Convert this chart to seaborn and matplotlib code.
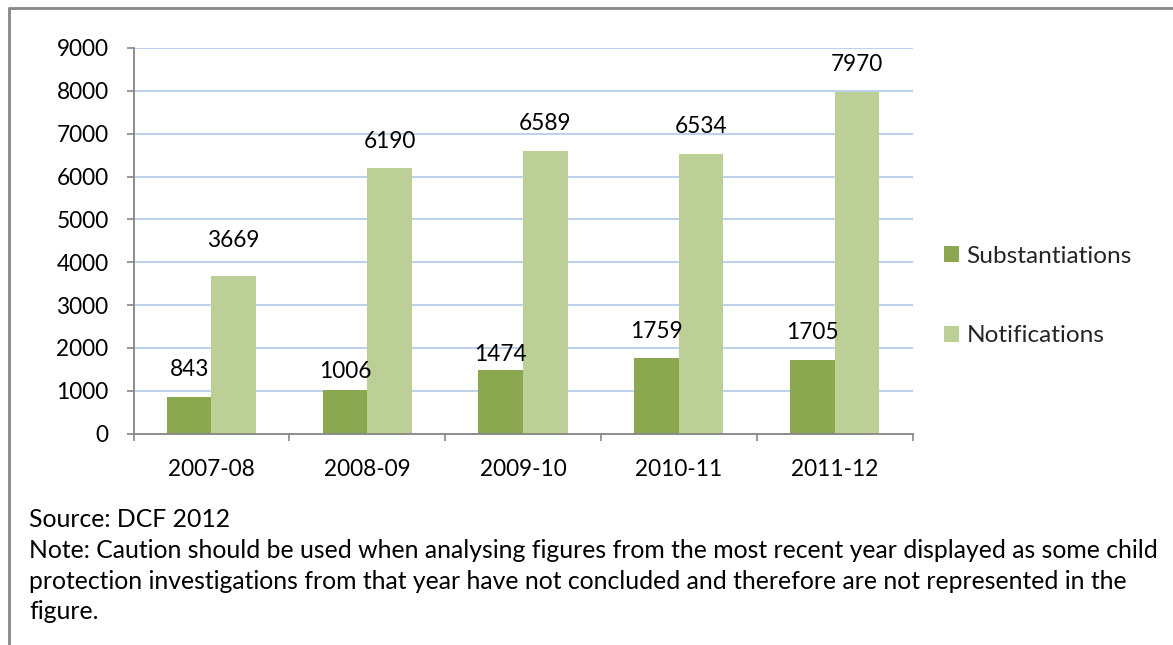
import pandas as pd
import seaborn as sns
import matplotlib.pyplot as plt
import numpy as np
from matplotlib.lines import Line2D
from matplotlib.patches import Patch

sns.set_theme(style="white")
plt.rcParams['font.family'] = ['Lato', 'DejaVu Sans']

# data
years = ['2007-08', '2008-09', '2009-10', '2010-11', '2011-12']
substantiations = [843, 1006, 1474, 1759, 1705]
notifications = [3669, 6190, 6589, 6534, 7970]
series = ['Substantiations', 'Notifications']
colors = ['#8BA74F', '#BBCF97']

# how far (px) each value label sits above its bar, as placed in the original
label_lift = {'Substantiations': [28, 19, 16, 27, 28],
              'Notifications': [36, 27, 28, 27, 28]}

df = pd.DataFrame({'Year': years * 2,
                   'Series': ['Substantiations'] * 5 + ['Notifications'] * 5,
                   'Count': substantiations + notifications})

fig = plt.figure(figsize=(11.73, 6.45), dpi=100)
ax = fig.add_axes([133.5 / 1173, 1 - 433.5 / 645, 779 / 1173, 385.5 / 645])

sns.barplot(data=df, x='Year', y='Count', hue='Series', hue_order=series,
            palette=colors, width=0.573, gap=0, linewidth=0, saturation=1,
            legend=False, ax=ax)

fs = 16.3      # numbers
fs_txt = 17.6  # prose
px = 72 / fig.dpi
for cont, name in zip(ax.containers, series):
    for bar, lift in zip(cont, label_lift[name]):
        h = bar.get_height()
        ax.annotate(f'{int(round(h))}', (bar.get_x() + bar.get_width() / 2, h),
                    xytext=(0, lift * px), textcoords='offset points',
                    ha='center', va='center', fontsize=fs, color='black')

ax.set_ylim(0, 9000)
ax.set_xlim(-0.5, 4.5)
ax.set_yticks(np.arange(0, 9001, 1000))
ax.set_xticks(np.arange(-0.5, 5), minor=True)
ax.set_xlabel('')
ax.set_ylabel('')
ax.yaxis.grid(True, color='#B9CBE8', linewidth=1.3)
ax.set_axisbelow(True)
for s in ['top', 'right']:
    ax.spines[s].set_visible(False)
for s in ['left', 'bottom']:
    ax.spines[s].set_color('#868686')
    ax.spines[s].set_linewidth(1.3)
ax.tick_params(axis='y', which='major', left=True, length=5, width=1.2,
               color='#868686', pad=13, labelsize=fs, labelcolor='black')
ax.tick_params(axis='x', which='major', bottom=False, length=0, pad=18,
               labelsize=fs, labelcolor='black')
ax.tick_params(axis='x', which='minor', bottom=True, length=5, width=1.2,
               color='#868686')

handles = [Patch(facecolor=c, edgecolor='none', label=n) for c, n in zip(colors, series)]
fig.legend(handles=handles, loc='center left', bbox_to_anchor=(944 / 1173, 1 - 296 / 645),
           frameon=False, fontsize=fs_txt, borderpad=0, borderaxespad=0,
           handlelength=0.62, handleheight=0.62, handletextpad=0.3, labelspacing=2.4)

# notes under the chart
notes = ['Source: DCF 2012',
         'Note: Caution should be used when analysing figures from the most recent year displayed as some child',
         'protection investigations from that year have not concluded and therefore are not represented in the',
         'figure.']
for line, base in zip(notes, [527, 558, 589, 619]):
    fig.text(29 / 1173, 1 - base / 645, line, fontsize=17.8, va='baseline', ha='left', color='black')

# chart frame (top and left edges visible in the crop)
fig.add_artist(Line2D([9 / 1173, 9 / 1173], [0, 1 - 8 / 645], color='#888888', lw=2))
fig.add_artist(Line2D([9 / 1173, 1], [1 - 8 / 645, 1 - 8 / 645], color='#888888', lw=2))

fig.savefig('out.png', dpi=100)
